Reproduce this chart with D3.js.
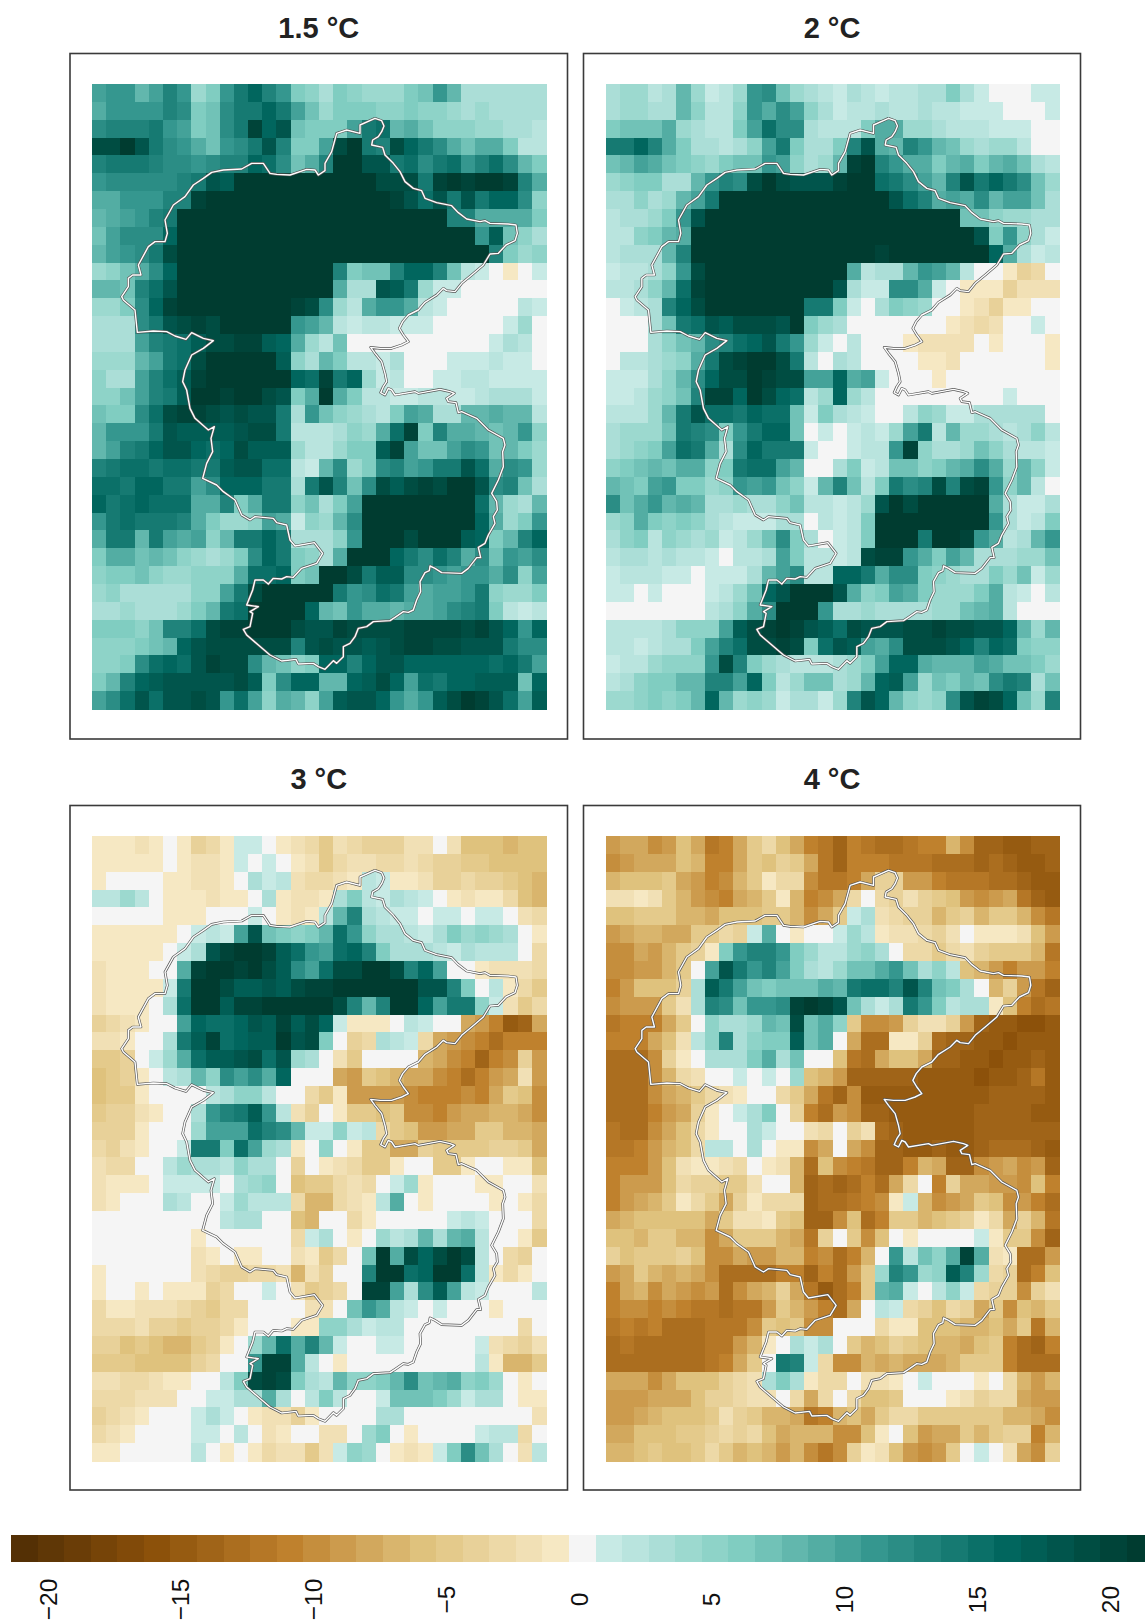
<!DOCTYPE html>
<html><head><meta charset="utf-8">
<style>html,body{margin:0;padding:0;background:#fff}svg{display:block}text{font-family:"Liberation Sans",Arial,sans-serif}</style>
<script src="https://cdn.jsdelivr.net/npm/d3@7"></script></head>
<body><div id="chart"></div>
<script>
const panelTitles = ["1.5 °C","2 °C","3 °C","4 °C"];
const tickValues = [-20,-15,-10,-5,0,5,10,15,20];
const levels = d3.range(-21,22);
const t15 = [
[10,11,11,8,10,13,11,4,6,11,14,16,13,11,6,5,3,6,5,4,4,4,6,7,11,8,3,3,3,3,3,3],
[9,11,11,11,11,13,12,6,7,12,14,14,16,14,10,7,4,6,6,6,5,5,6,5,5,4,3,4,3,3,3,3],
[12,13,13,13,14,11,10,6,7,12,14,20,16,18,7,6,6,6,10,14,15,8,9,7,5,5,5,4,4,3,3,2],
[19,19,21,18,14,12,11,9,7,11,12,14,18,13,6,6,10,19,21,14,13,19,16,14,12,9,7,9,9,6,2,2],
[13,14,14,14,13,12,12,11,12,13,13,16,15,12,7,9,13,21,21,18,18,14,15,12,14,15,11,13,15,12,8,6],
[11,12,12,12,12,12,13,14,18,17,21,21,21,21,21,21,21,21,21,21,19,19,19,14,20,21,20,21,21,20,13,9],
[9,9,11,11,11,13,13,20,21,21,21,21,21,21,21,21,21,21,21,21,21,20,18,15,18,14,18,14,16,16,12,5],
[8,9,10,11,13,14,21,21,21,21,21,21,21,21,21,21,21,21,21,21,21,21,21,21,21,13,13,9,9,9,9,6],
[7,10,12,12,12,16,21,21,21,21,21,21,21,21,21,21,21,21,21,21,21,21,21,21,21,21,21,11,17,7,5,3],
[8,10,11,12,14,19,21,21,21,21,21,21,21,21,21,21,21,21,21,21,21,21,21,21,21,21,21,21,13,6,4,5],
[4,5,7,9,12,16,21,21,21,21,21,21,21,21,21,21,21,13,6,7,7,13,16,16,13,7,2,1,0,-1,0,1],
[8,8,7,13,15,18,21,21,21,21,21,21,21,21,21,21,21,9,3,3,18,17,14,4,1,1,0,0,0,0,0,0],
[4,4,6,12,16,20,21,21,21,21,21,21,21,21,20,19,12,4,2,9,11,11,9,2,1,0,0,0,0,0,2,1],
[3,3,3,12,14,18,19,20,19,21,21,21,21,21,11,10,8,2,1,2,2,1,1,1,0,0,0,0,0,1,4,0],
[3,3,3,10,13,14,15,17,19,19,20,20,17,16,9,4,2,7,0,0,0,0,0,0,0,0,0,0,1,3,2,0],
[4,4,4,8,10,14,15,19,21,21,21,21,21,17,5,3,8,6,2,2,1,3,0,0,0,1,1,1,2,1,1,0],
[5,3,3,10,13,15,17,20,21,21,21,21,21,21,16,15,20,14,16,4,1,2,0,0,1,1,2,2,1,1,1,1],
[5,5,7,10,13,14,17,21,21,20,21,21,19,18,6,9,21,9,6,2,2,1,1,2,2,1,1,2,3,3,3,1],
[7,6,6,12,15,19,20,20,19,18,19,18,18,14,3,11,7,5,4,3,2,6,10,9,3,3,8,8,9,8,8,2],
[8,11,11,11,14,18,17,17,17,17,18,19,19,14,2,2,2,3,5,4,9,15,20,6,13,9,9,8,7,8,11,5],
[8,10,13,14,16,18,18,16,15,16,19,17,17,17,4,2,2,4,6,6,17,20,10,7,7,10,12,11,7,8,6,4],
[13,14,15,15,14,15,15,14,14,17,18,18,15,15,2,1,8,12,4,6,12,13,10,11,14,14,18,15,9,12,11,4],
[15,15,14,16,16,14,14,10,12,16,16,16,14,14,3,14,18,13,7,12,19,17,19,20,19,21,21,18,12,13,7,3],
[16,14,15,16,15,15,15,9,9,13,6,9,14,14,5,7,3,6,10,21,21,21,21,21,21,21,21,15,8,4,3,8],
[11,14,15,14,14,14,13,9,6,4,4,5,10,9,1,5,4,8,12,21,21,21,21,21,21,21,21,16,9,4,6,11],
[9,14,14,8,14,10,9,10,5,8,14,14,16,14,3,3,3,5,11,21,21,21,19,21,21,21,17,16,6,8,13,16],
[6,9,9,7,8,7,5,4,3,4,6,12,16,14,6,5,3,9,21,21,21,16,14,12,15,13,9,12,7,11,10,12],
[5,6,6,7,5,4,4,5,5,5,9,15,15,16,6,7,21,21,19,14,17,17,12,12,11,10,11,11,9,12,5,10],
[4,5,3,3,3,3,3,5,5,10,14,19,21,21,21,21,21,14,11,12,15,14,10,9,10,10,11,14,5,4,4,6],
[3,3,4,3,3,3,4,6,8,14,15,21,21,21,21,16,8,7,11,9,9,8,9,9,10,12,13,14,6,2,1,2],
[6,6,6,5,7,13,13,15,19,20,20,21,21,21,19,18,18,20,19,19,19,19,20,20,20,20,19,20,18,16,11,16],
[5,5,5,6,7,8,16,18,19,19,19,19,19,19,13,18,19,18,18,17,18,19,20,20,19,19,18,18,18,14,12,12],
[5,5,6,12,15,16,15,18,20,19,19,12,8,7,5,6,16,16,13,16,18,18,16,16,16,16,16,16,15,16,14,10],
[6,8,13,16,17,18,18,18,18,18,19,17,6,12,16,16,8,8,16,17,19,16,10,15,14,16,16,17,17,17,7,16],
[10,12,15,18,15,18,18,19,18,11,15,10,5,9,8,5,10,17,18,18,16,11,9,11,17,19,21,20,18,15,10,17]];
const t2 = [
[3,4,4,2,3,8,4,1,2,4,11,12,7,4,3,2,1,3,2,1,2,2,3,3,6,3,1,0,0,0,1,1],
[3,4,4,3,3,8,5,2,2,5,11,9,12,10,5,3,1,2,2,3,2,2,3,2,2,1,1,1,0,0,0,1],
[6,7,7,7,9,4,3,2,2,6,10,15,12,12,3,2,2,2,6,9,9,4,4,3,2,2,2,1,1,1,0,0],
[14,14,16,13,9,6,3,3,2,3,5,10,14,6,3,3,6,13,18,9,8,13,11,8,7,4,3,4,4,2,0,0],
[7,8,10,9,7,6,5,4,6,7,7,11,10,5,3,4,8,20,21,13,11,9,9,6,8,9,6,8,9,7,3,2],
[4,5,6,6,3,3,8,11,13,12,19,21,19,18,18,18,20,21,21,15,14,12,10,8,13,18,14,16,14,12,7,4],
[3,3,5,3,4,8,10,14,21,21,21,21,21,21,21,21,21,21,21,21,18,15,13,9,10,9,12,8,10,10,7,3],
[2,3,3,4,6,11,18,21,21,21,21,21,21,21,21,21,21,21,21,21,21,21,21,21,21,7,7,5,4,4,3,3],
[2,2,5,6,8,9,21,21,21,21,21,21,21,21,21,21,21,21,21,21,21,21,21,21,21,21,18,6,11,5,3,1],
[2,3,3,3,8,13,21,21,21,21,21,21,21,21,21,21,21,21,21,20,21,21,21,21,21,21,21,16,9,3,1,2],
[1,2,2,3,5,11,19,21,21,21,21,21,21,21,21,21,21,9,2,3,3,8,11,10,8,2,0,0,-1,-4,-3,0],
[2,2,3,5,8,15,20,21,21,21,21,21,21,21,21,21,18,3,1,1,12,12,9,1,0,-1,-1,-1,-4,-2,-2,-2],
[0,1,2,3,13,16,19,21,21,21,21,21,21,21,14,14,6,1,0,3,6,5,4,0,0,-1,-2,-4,-1,-1,0,0],
[0,0,0,3,7,14,15,18,17,19,19,19,18,21,6,4,3,0,0,0,0,0,0,0,-1,-2,-3,-2,0,0,1,0],
[0,0,0,3,5,7,8,12,13,15,16,18,14,11,4,1,0,2,0,0,0,-1,-2,-2,-2,-2,0,-1,0,0,0,-1],
[0,2,2,3,4,5,9,14,19,20,21,21,19,14,2,0,3,2,0,0,0,0,-1,-1,-2,0,0,0,0,0,0,-1],
[1,1,1,3,5,8,12,16,19,19,21,20,19,19,10,10,16,9,10,1,0,0,0,-1,0,0,0,0,0,0,0,0],
[1,1,2,4,5,7,13,20,20,16,21,19,16,15,2,4,16,4,2,0,0,0,0,0,0,0,0,0,1,0,0,0],
[2,2,2,4,8,14,18,15,15,14,16,15,15,7,1,6,3,2,1,0,0,2,5,4,1,1,3,3,3,3,3,0],
[3,4,4,4,7,14,13,12,6,11,14,16,16,7,0,1,0,1,2,1,4,10,14,2,8,4,4,3,2,3,5,2],
[3,4,5,6,10,15,14,9,3,12,16,14,14,14,1,0,0,1,2,2,11,20,5,3,3,4,7,5,3,2,2,1],
[5,6,7,8,7,9,9,5,6,14,15,15,10,8,0,0,3,6,1,2,7,7,5,6,8,9,12,9,4,8,5,1],
[8,7,6,10,11,6,6,4,5,11,10,11,7,5,1,8,13,7,2,6,14,12,13,19,13,19,20,11,5,8,2,0],
[12,7,9,11,8,9,8,3,3,4,3,3,5,7,2,2,1,2,4,18,21,19,21,21,21,21,21,9,3,1,1,3],
[4,5,9,6,5,6,5,3,2,1,1,1,3,3,0,2,1,2,6,21,21,21,21,21,21,21,21,11,3,1,2,6],
[3,5,6,2,5,4,3,4,1,2,4,7,12,6,3,0,1,2,6,21,21,21,14,21,21,20,11,9,2,3,8,11],
[2,3,3,2,3,2,2,1,0,2,2,3,10,6,2,2,1,2,19,20,20,11,9,6,10,8,3,3,3,4,4,7],
[1,2,2,2,1,1,0,1,1,1,3,8,10,12,2,2,16,16,14,9,12,12,6,5,4,3,3,6,4,7,1,4],
[1,1,0,1,0,0,0,1,2,4,7,16,18,21,21,21,18,9,5,6,10,9,6,4,4,4,6,9,2,1,0,2],
[0,0,0,0,0,0,0,2,3,5,9,12,21,21,21,11,3,3,4,3,3,3,3,4,4,7,8,9,2,0,0,0],
[2,2,2,2,3,5,5,5,10,17,19,20,21,20,18,17,15,19,18,18,18,19,19,20,19,19,18,18,16,8,4,8],
[2,2,1,2,3,3,6,10,13,15,19,19,20,19,6,15,18,17,10,9,12,19,19,19,18,16,13,16,15,6,5,5],
[1,2,2,4,5,5,5,11,19,13,6,4,3,2,2,2,3,4,6,10,16,16,9,8,8,8,10,9,7,7,6,4],
[2,3,5,6,6,8,8,13,13,10,16,6,2,4,7,7,3,4,8,16,17,10,4,7,6,8,7,12,14,13,3,7],
[4,4,5,6,5,6,8,16,8,4,5,4,1,3,3,1,4,13,18,16,8,5,4,5,12,18,20,19,16,7,4,13]];
const t3 = [
[-1,-1,-1,-2,-1,0,-1,-4,-3,-1,1,1,0,-1,-2,-3,-5,-2,-3,-4,-4,-4,-2,-2,0,-2,-6,-6,-6,-7,-6,-6],
[-1,-1,-1,-1,-1,0,-1,-2,-2,-1,1,0,1,0,-1,-2,-5,-3,-2,-2,-3,-3,-2,-3,-4,-4,-5,-5,-6,-6,-6,-6],
[-1,0,0,0,0,-1,-1,-2,-2,-1,0,3,1,2,-2,-3,-3,-2,-1,2,1,-1,-1,-2,-4,-4,-3,-4,-4,-5,-6,-7],
[2,2,4,2,0,-1,-1,-1,-2,-1,-1,0,3,-1,-2,-2,-1,3,6,2,1,3,2,1,0,-1,-2,-1,-1,-3,-6,-7],
[0,0,0,0,0,-1,-1,-1,0,0,0,1,0,-1,-2,-1,2,8,13,3,2,1,1,0,1,1,0,1,1,0,-2,-3],
[-1,-1,-1,-1,-1,-1,0,1,2,1,10,18,7,6,5,6,8,15,11,5,3,3,2,1,3,6,4,5,4,3,0,-1],
[-1,-1,-1,-1,-1,0,1,3,18,20,21,21,20,17,15,11,10,15,16,13,6,3,3,3,2,1,3,2,2,2,0,-3],
[-2,-1,-1,-1,0,0,9,20,21,21,20,21,19,17,12,10,15,19,19,21,21,19,13,16,10,0,0,-1,-2,-2,-2,-3],
[-2,-1,-1,-1,-1,1,14,21,21,19,17,17,18,17,19,20,20,21,21,21,21,21,21,18,18,13,6,0,2,-1,-3,-5],
[-2,-1,-1,-1,0,3,15,21,21,17,20,20,21,21,21,21,21,19,13,8,13,21,21,16,10,14,14,5,1,-2,-5,-3],
[-4,-3,-2,-1,0,0,10,16,15,15,16,18,17,20,17,19,16,1,-1,-1,-1,0,2,1,0,0,-8,-9,-11,-15,-14,-8],
[-2,-2,-1,0,0,3,14,17,20,15,16,17,17,21,18,19,6,0,-4,-3,3,2,1,-3,-8,-9,-10,-11,-13,-11,-11,-11],
[-5,-5,-4,0,1,4,9,15,17,17,18,19,15,18,4,3,0,-2,-5,0,0,0,0,-7,-8,-10,-11,-14,-11,-10,-4,-9],
[-6,-5,-4,-1,0,2,3,8,5,12,10,12,9,16,0,0,0,-8,-9,-5,-6,-7,-8,-8,-10,-11,-13,-11,-9,-8,-2,-9],
[-6,-5,-5,-1,0,0,0,0,2,3,5,5,2,0,0,-3,-5,-1,-9,-9,-9,-9,-10,-11,-11,-11,-10,-11,-8,-5,-6,-10],
[-5,-4,-4,-2,-1,0,0,3,11,13,14,17,11,2,-2,-4,0,-1,-5,-5,-6,-5,-10,-10,-11,-9,-8,-8,-7,-7,-8,-10],
[-4,-4,-4,-1,0,0,0,4,10,10,10,15,13,12,8,1,1,5,1,2,-3,-5,-6,-9,-9,-8,-8,-5,-5,-7,-7,-8],
[-3,-4,-2,-1,0,0,1,14,14,6,15,10,4,3,-1,0,5,0,-1,-5,-5,-8,-8,-4,-5,-5,-5,-5,-4,-4,-5,-8],
[-2,-3,-3,0,0,2,4,3,3,2,5,3,3,0,-4,0,-1,-2,-3,-5,-5,-1,0,0,-5,-5,-1,0,0,-1,-1,-6],
[-2,-1,-1,-1,0,1,1,1,1,0,3,4,5,0,-6,-5,-5,-3,-2,-3,0,1,4,-1,0,0,0,-1,-1,0,0,-2],
[-2,-1,0,0,0,3,2,0,0,1,4,2,2,2,-3,-7,-7,-3,-2,-1,2,9,0,-1,0,0,0,0,-1,0,-1,-3],
[0,0,0,0,0,0,0,0,0,2,3,3,0,0,-6,-7,0,0,-3,-1,0,0,0,0,0,1,2,1,0,0,0,-3],
[0,0,0,0,0,0,0,-1,0,0,0,0,0,0,-3,1,3,0,-1,0,4,2,3,8,3,8,9,2,0,0,-1,-5],
[0,0,0,0,0,0,0,-2,-1,0,-1,-1,0,0,-2,-1,-5,-3,0,7,21,9,19,16,19,21,19,2,0,-3,-4,0],
[-1,0,0,0,0,0,0,-2,-3,-4,-4,-3,-3,-2,-7,-2,-4,0,0,13,21,21,15,16,21,21,15,2,-1,-3,-1,0],
[-1,0,0,-1,0,-1,-1,-1,-4,-3,0,0,1,0,-2,-5,-4,-3,0,20,20,10,3,12,17,10,2,1,0,0,0,2],
[-3,-1,-1,-2,-2,-2,-3,-4,-5,-3,-3,0,0,0,0,-2,-2,0,7,11,9,2,1,0,1,0,0,0,-1,0,0,0],
[-3,-3,-3,-2,-4,-4,-5,-4,-4,-3,-1,0,0,0,-1,-1,5,5,3,1,2,2,0,0,0,0,0,0,0,0,-3,0],
[-4,-4,-6,-5,-6,-7,-7,-5,-4,-1,0,4,8,15,9,13,8,1,0,0,1,1,0,0,0,0,0,1,-2,-3,-4,-2],
[-5,-5,-5,-6,-6,-6,-6,-4,-3,0,0,11,20,20,9,2,0,-1,0,0,0,0,0,0,0,0,0,2,-1,-7,-7,-5],
[-2,-2,-3,-3,-2,-1,-1,0,0,2,6,19,20,19,6,3,2,8,5,5,6,8,12,7,8,9,5,6,4,0,-1,0],
[-3,-3,-3,-2,-2,-2,0,0,1,1,3,3,9,3,0,2,6,2,0,0,1,7,7,7,6,4,1,3,3,0,-1,-1],
[-4,-3,-2,-1,0,0,0,1,3,1,0,-1,-2,-2,-4,-1,0,0,0,0,3,3,0,0,0,0,0,0,0,0,0,-2],
[-3,-2,-1,0,0,0,0,1,1,0,2,0,-2,-1,0,0,-2,-2,0,4,6,0,-1,0,0,0,0,1,2,2,-3,0],
[-1,-1,0,0,0,0,0,2,0,-1,0,-1,-3,-2,-2,-5,-2,1,5,4,0,-1,-2,-1,1,6,12,7,3,0,-2,2]];
const t4 = [
[-9,-8,-8,-10,-9,-6,-8,-12,-11,-8,-5,-3,-6,-8,-11,-12,-14,-11,-12,-13,-13,-12,-11,-11,-7,-10,-14,-14,-15,-15,-14,-14],
[-10,-9,-8,-8,-8,-6,-7,-11,-11,-8,-5,-6,-4,-5,-8,-12,-14,-11,-11,-11,-12,-12,-12,-13,-13,-13,-14,-13,-14,-15,-15,-14],
[-7,-6,-6,-6,-5,-8,-9,-11,-10,-7,-5,-1,-3,-3,-10,-12,-12,-11,-8,-4,-4,-9,-9,-11,-12,-12,-12,-13,-13,-14,-15,-15],
[-2,-2,-1,-2,-5,-7,-9,-10,-11,-8,-7,-5,-1,-7,-11,-10,-8,-3,0,-3,-4,-2,-4,-5,-6,-9,-10,-9,-8,-12,-14,-15],
[-6,-6,-5,-5,-5,-7,-7,-8,-6,-6,-6,-5,-5,-7,-10,-8,-5,1,3,-2,-3,-4,-4,-7,-5,-4,-7,-5,-5,-7,-10,-12],
[-9,-8,-7,-7,-8,-8,-5,-5,-3,-4,1,9,0,-1,0,0,1,4,2,-1,-2,-2,-3,-4,-2,0,-1,-1,-1,-2,-6,-9],
[-10,-10,-8,-9,-7,-5,-4,-1,6,11,13,13,11,6,4,2,2,4,5,3,0,-3,-3,-5,-3,-2,-4,-5,-5,-5,-7,-12],
[-10,-10,-9,-9,-7,-5,0,10,18,14,11,13,10,6,3,2,4,7,7,9,11,7,3,5,2,-6,-7,-9,-11,-9,-9,-11],
[-11,-9,-6,-6,-6,-4,3,17,14,10,7,6,7,7,7,9,8,14,15,15,13,18,13,7,6,3,0,-7,-4,-9,-12,-14],
[-10,-9,-9,-9,-5,-2,3,13,12,7,11,11,12,20,21,20,18,7,3,1,3,14,11,6,2,3,3,-1,-6,-11,-13,-12],
[-12,-11,-11,-11,-8,-5,0,5,3,3,4,8,7,19,7,9,5,-5,-10,-10,-9,-4,-2,-2,-4,-9,-14,-15,-15,-16,-16,-15],
[-11,-11,-11,-8,-6,-2,2,5,13,3,5,6,6,17,7,9,0,-8,-13,-13,-1,-1,-4,-13,-14,-14,-15,-15,-16,-15,-15,-15],
[-13,-13,-13,-10,-4,-1,0,3,3,3,6,9,3,7,0,0,-6,-12,-13,-8,-6,-6,-8,-14,-14,-15,-15,-16,-15,-15,-14,-15],
[-13,-13,-13,-10,-7,-3,-2,0,0,1,0,1,0,4,-6,-7,-9,-14,-14,-14,-14,-14,-15,-15,-15,-15,-16,-15,-15,-14,-12,-15],
[-13,-13,-13,-10,-8,-7,-5,-3,-2,-1,0,0,-3,-5,-8,-12,-14,-10,-15,-15,-15,-15,-15,-15,-15,-15,-15,-14,-14,-14,-14,-15],
[-13,-13,-13,-11,-9,-8,-4,-1,0,1,3,6,0,-4,-11,-13,-9,-10,-14,-14,-15,-15,-15,-15,-15,-15,-14,-14,-14,-14,-15,-15],
[-12,-13,-13,-10,-8,-6,-3,-1,0,0,3,1,0,0,-2,-3,0,-4,-2,-13,-14,-15,-15,-15,-15,-15,-14,-14,-14,-14,-14,-14],
[-12,-12,-11,-9,-7,-6,-3,2,2,0,3,0,-1,-1,-10,-8,0,-8,-10,-14,-14,-15,-15,-14,-15,-15,-14,-13,-13,-13,-14,-15],
[-11,-11,-11,-9,-6,-2,-1,-1,-2,-3,0,-1,-2,-7,-13,-6,-10,-11,-12,-14,-14,-11,-7,-8,-14,-14,-10,-9,-8,-10,-9,-14],
[-11,-9,-9,-9,-6,-3,-4,-4,-5,-5,-2,0,0,-7,-14,-13,-14,-13,-11,-13,-8,-3,0,-11,-4,-8,-8,-9,-9,-10,-6,-11],
[-11,-9,-8,-7,-5,-1,-3,-5,-8,-4,-1,-3,-3,-3,-14,-13,-13,-12,-11,-10,-1,1,-7,-10,-9,-8,-5,-6,-10,-9,-11,-13],
[-8,-7,-6,-6,-6,-6,-6,-8,-5,-2,-2,-1,-5,-6,-14,-14,-10,-6,-13,-11,-5,-5,-7,-6,-5,-4,-1,-3,-8,-4,-7,-12],
[-6,-6,-7,-5,-5,-7,-7,-10,-8,-5,-5,-5,-7,-8,-12,-4,0,-5,-10,-6,0,-1,0,0,0,0,1,-1,-5,-5,-10,-14],
[-4,-6,-5,-5,-5,-4,-6,-10,-10,-8,-9,-9,-7,-7,-11,-10,-13,-11,-7,0,11,2,7,5,9,20,9,-2,-1,-13,-13,-9],
[-9,-8,-5,-7,-8,-7,-8,-10,-13,-13,-13,-13,-11,-11,-14,-11,-13,-9,-5,4,13,11,4,5,17,13,4,-3,-4,-13,-11,-6],
[-11,-8,-7,-10,-8,-9,-10,-9,-13,-10,-8,-7,-4,-8,-12,-15,-13,-11,-5,8,9,1,0,2,5,1,-3,-4,-4,-10,-4,-2],
[-11,-10,-10,-11,-10,-11,-12,-12,-13,-12,-12,-9,-5,-7,-9,-11,-13,-8,0,2,1,-3,-4,-6,-3,-4,-8,-5,-10,-6,-7,-5],
[-12,-11,-12,-11,-13,-13,-13,-12,-12,-12,-10,-5,-6,-5,-10,-10,0,0,0,-3,-1,-1,-6,-6,-6,-7,-7,-6,-8,-5,-12,-7],
[-13,-12,-13,-13,-13,-13,-13,-12,-12,-9,-7,-1,0,3,1,3,0,-5,-7,-6,-4,-5,-6,-7,-7,-8,-6,-5,-11,-13,-14,-11],
[-13,-13,-13,-13,-13,-13,-13,-12,-11,-8,-5,0,14,13,1,-3,-10,-10,-7,-8,-7,-8,-8,-8,-7,-5,-5,-5,-11,-13,-13,-13],
[-8,-8,-8,-10,-8,-6,-6,-6,-4,-3,-2,3,6,3,-1,-3,-3,0,-2,-2,-1,0,1,0,0,0,-1,0,-3,-7,-9,-7],
[-9,-9,-9,-8,-8,-8,-6,-4,-4,-3,-2,-2,0,-3,-8,-3,0,-3,-6,-6,-5,0,0,0,-1,-2,-4,-3,-3,-8,-9,-9],
[-9,-9,-8,-7,-6,-6,-6,-5,-2,-4,-5,-7,-7,-8,-12,-11,-7,-6,-8,-5,-3,-3,-5,-5,-5,-5,-5,-5,-7,-7,-8,-10],
[-8,-8,-6,-6,-6,-5,-5,-4,-3,-4,-3,-6,-8,-7,-7,-7,-10,-10,-6,-1,0,-6,-9,-8,-8,-5,-7,-5,-4,-4,-11,-7],
[-7,-7,-6,-5,-6,-6,-5,-3,-5,-7,-6,-7,-9,-7,-10,-12,-10,-4,-1,-2,-6,-9,-10,-9,-5,0,1,0,-2,-8,-10,-4]];
const panelGrids = [t15,t2,t3,t4];
// Catchment boundary in the map's own units (easting, southing)
const basinE = [945,965,972,965,955,938,935,968,975,1000,1020,1035,1060,1085,1095,1130,1175,1195,1220,1260,1275,1290,1345,1368,1372,1365,1338,1315,1290,1270,1235,1205,1185,1160,1150,1130,1095,1075,1045,1028,1018,1030,1045,1025,995,960,932,945,965,975,980,970,962,975,985,995,1005,1065,1075,1140,1170,1183,1160,1165,1188,1195,1205,1250,1285,1330,1335,1328,1330,1315,1295,1310,1312,1300,1305,1285,1275,1255,1262,1250,1225,1205,1145,1125,1110,1108,1095,1080,1082,1070,1060,1045,1030,1005,990,940,920,895,885,870,850,850,830,820,795,775,760,715,708,665,630,595,560,550,570,578,570,595,560,578,585,610,625,640,665,680,700,725,770,788,763,705,690,680,650,640,585,570,545,525,490,470,428,440,458,453,463,445,405,390,380,368,375,395,430,460,430,395,378,345,320,280,232,225,190,185,205,205,218,243,235,265,285,315,322,315,340,375,400,430,455,490,545,575,610,630,650,690,740,765,775,795,795,815,830,860,900,900,945];
const basinS = [355,362,378,395,410,420,435,442,465,490,515,545,565,572,595,608,617,638,657,665,662,670,672,675,700,722,735,760,762,795,825,850,875,872,865,885,907,930,945,965,985,1005,1025,1035,1045,1045,1042,1060,1085,1120,1145,1160,1178,1185,1165,1170,1185,1175,1180,1168,1175,1180,1195,1205,1208,1238,1235,1255,1290,1315,1335,1355,1400,1440,1480,1505,1530,1550,1570,1605,1630,1642,1673,1673,1705,1720,1718,1705,1698,1712,1718,1745,1775,1800,1830,1837,1835,1852,1862,1865,1880,1885,1910,1930,1940,1970,1990,1982,2008,2000,1990,1992,1978,1983,1965,1935,1905,1888,1880,1840,1835,1820,1815,1770,1740,1740,1752,1735,1737,1730,1732,1705,1690,1660,1628,1638,1620,1575,1568,1555,1550,1560,1545,1500,1475,1455,1435,1390,1355,1315,1280,1290,1255,1225,1170,1145,1110,1065,1045,1022,1015,998,1018,1008,995,993,997,930,900,890,860,835,825,825,795,740,725,725,700,660,615,590,555,535,517,510,507,490,490,520,523,525,508,510,525,512,490,455,400,390,400,375,355];

const W=1145,H=1621;
const svg=d3.select("#chart").append("svg").attr("width",W).attr("height",H).attr("viewBox",`0 0 ${W} ${H}`);
const color=d3.scaleLinear()
  .domain([-21,-16,-11,-6,-1,0,1,6,11,16,21])
  .range(["#543005","#8c510a","#bf812d","#dfc27d","#f6e8c3","#f5f5f5","#c7eae5","#80cdc1","#35978f","#01665e","#003c30"])
  .interpolate(d3.interpolateRgb).clamp(true);
const layout=[
 {fx:70,fy:53.5,fw:497.5,fh:685.5,rx:92,ry:84,ty:38},
 {fx:583.5,fy:53.5,fw:497,fh:685.5,rx:605.5,ry:84,ty:38},
 {fx:70,fy:805.5,fw:497.5,fh:684.5,rx:92,ry:836,ty:789},
 {fx:583.5,fy:805.5,fw:497,fh:684.5,rx:605.5,ry:836,ty:789}];
const RW=454,RH=625;
panelGrids.forEach((grid,i)=>{
  const L=layout[i];
  const g=svg.append("g");
  g.append("text").attr("x",L.fx+L.fw/2).attr("y",L.ty).attr("text-anchor","middle")
    .attr("font-size",29).attr("font-weight","bold").attr("fill","#222").text(panelTitles[i]);
  g.append("rect").attr("x",L.fx).attr("y",L.fy).attr("width",L.fw).attr("height",L.fh)
    .attr("fill","#fff").attr("stroke","#3a3a3a").attr("stroke-width",1.6);
  const x=d3.scaleBand().domain(d3.range(32)).range([L.rx,L.rx+RW]);
  const y=d3.scaleBand().domain(d3.range(35)).range([L.ry,L.ry+RH]);
  grid.forEach((row,r)=>{
    if(row.length!==32) throw new Error("panel "+i+" row "+r+" has "+row.length);
    g.append("g").attr("shape-rendering","crispEdges").selectAll("rect").data(row).join("rect")
      .attr("x",(d,c)=>x(c)).attr("y",y(r)).attr("width",x.bandwidth()+0.5).attr("height",y.bandwidth()+0.5)
      .attr("fill",d=>color(d));
  });
  const mx=d3.scaleLinear().domain([96,1458]).range([L.rx,L.rx+RW]);
  const my=d3.scaleLinear().domain([252,2127]).range([L.ry,L.ry+RH]);
  const line=d3.line().x(j=>mx(basinE[j])).y(j=>my(basinS[j])).curve(d3.curveLinear);
  const idx=d3.range(basinE.length);
  g.append("path").attr("d",line(idx)).attr("fill","none").attr("stroke","#555").attr("stroke-width",2.7).attr("stroke-linejoin","round");
  g.append("path").attr("d",line(idx)).attr("fill","none").attr("stroke","#fff").attr("stroke-width",1.4).attr("stroke-linejoin","round");
});
// colour bar (the last class runs past the page edge, as in the original)
const bx=d3.scaleBand().domain(levels).range([11,1153.5]);
svg.append("g").attr("shape-rendering","crispEdges").selectAll("rect").data(levels).join("rect")
  .attr("x",d=>bx(d)).attr("y",1535).attr("width",bx.bandwidth()+0.5).attr("height",27).attr("fill",d=>color(d));
const tx=d3.scaleLinear().domain([-20,20]).range([48,1110]);
svg.append("g").selectAll("text").data(tickValues).join("text")
  .attr("transform",d=>`translate(${tx(d)},1599.5) rotate(-90)`)
  .attr("text-anchor","middle").attr("dominant-baseline","central")
  .attr("font-size",24.5).attr("fill","#111")
  .text(d=>d<0?"\u2212"+Math.abs(d):d);
</script></body></html>
